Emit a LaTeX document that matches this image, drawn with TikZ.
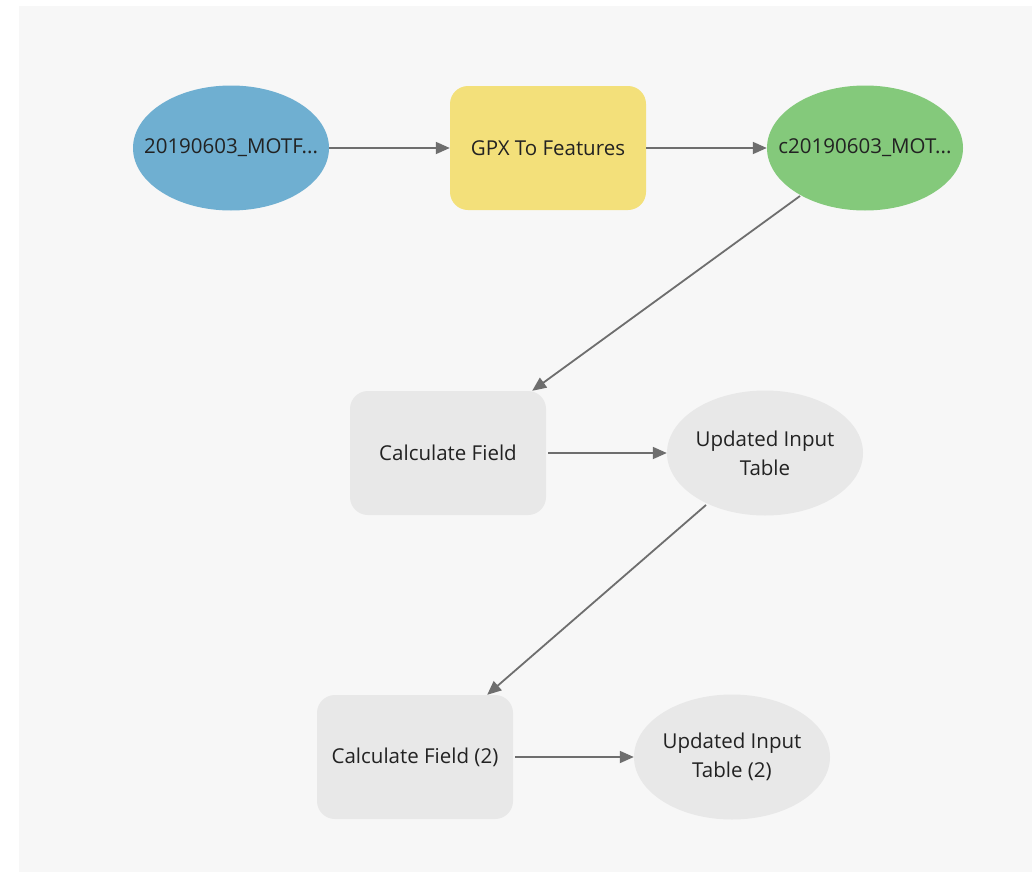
\documentclass[tikz,border=0pt]{standalone}
\usepackage{fontspec}
\setmainfont{Open Sans}
\usetikzlibrary{shapes.geometric,arrows.meta,calc}
\definecolor{bgc}{HTML}{F7F7F7}
\definecolor{bluec}{HTML}{6FAFD1}
\definecolor{yellowc}{HTML}{F3E07A}
\definecolor{greenc}{HTML}{84C97B}
\definecolor{grayc}{HTML}{E8E8E8}
\definecolor{linec}{HTML}{6E6E6E}
\definecolor{textc}{HTML}{222222}
\tikzset{
  data/.style={ellipse, minimum width=196pt, minimum height=125pt, inner sep=-20pt, text=textc, font=\fontsize{20.5}{29}\selectfont, align=center},
  tool/.style={rounded corners=18pt, minimum width=196pt, minimum height=124pt, inner sep=0pt, text=textc, font=\fontsize{20.5}{29}\selectfont, align=center},
  conn/.style={draw=linec, line width=1.8pt, -{Triangle[length=14pt,width=12pt]}}
}
\begin{document}
\begin{tikzpicture}[x=1pt,y=-1pt]
\useasboundingbox (0,0) rectangle (1036,878);
\fill[white] (0,0) rectangle (1036,878);
\fill[bgc] (19,6) rectangle (1032,872);
\node[data, fill=bluec] (in) at (231,148) {20190603\_MOTF...};
\node[tool, fill=yellowc] (gpx) at (548,148) {GPX To Features};
\node[data, fill=greenc] (out) at (865,148) {c20190603\_MOT...};
\node[tool, fill=grayc] (cf) at (448,453) {Calculate Field};
\node[data, fill=grayc] (uit) at (765,453) {Updated Input\\Table};
\node[tool, fill=grayc] (cf2) at (415,757) {Calculate Field (2)};
\node[data, fill=grayc] (uit2) at (732,757) {Updated Input\\Table (2)};
\coordinate (o1) at ($(out)+(-65,48)$);
\coordinate (u1) at ($(uit)+(-59,52)$);
\draw[conn] (in.east) -- (gpx.west);
\draw[conn] (gpx.east) -- (out.west);
\draw[conn] (o1) -- ($(cf.north east)+(-14,0)$);
\draw[conn] ($(cf.east)+(2,0)$) -- (uit.west);
\draw[conn] (u1) -- ($(cf2.north east)+(-26,0)$);
\draw[conn] ($(cf2.east)+(2,0)$) -- (uit2.west);
\end{tikzpicture}
\end{document}
